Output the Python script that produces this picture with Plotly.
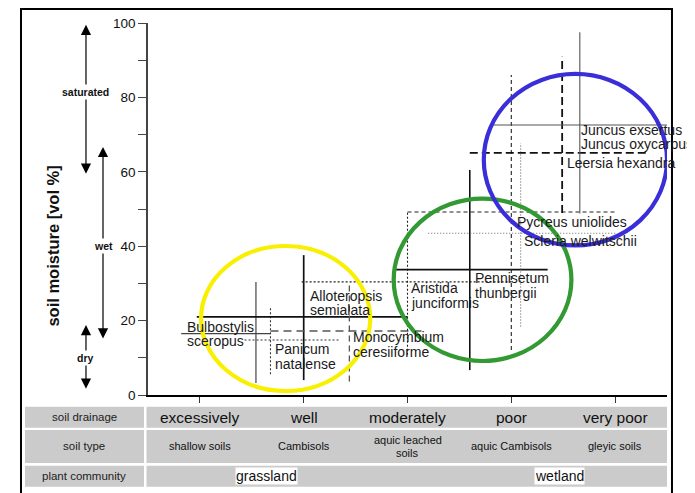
import plotly.graph_objects as go

# ---------------- data ----------------
drainage = ["excessively", "well", "moderately", "poor", "very poor"]
drain_pos = [1, 2, 3, 4, 5]
soil_types = [["shallow soils"], ["Cambisols"], ["aquic leached", "soils"], ["aquic Cambisols"], ["gleyic soils"]]
row_labels = ["soil drainage", "soil type", "plant community"]
communities = ["grassland", "wetland"]
community_x = [1.64, 4.46]

species = ["Bulbostylis sceropus", "Panicum natalense", "Alloteropsis semialata",
           "Monocymbium ceresiiforme", "Aristida junciformis", "Pennisetum thunbergii",
           "Pycreus uniolides", "Scleria welwitschii", "Leersia hexandra",
           "Juncus exsertus / Juncus oxycarpus"]
label_lines = [["Bulbostylis", "sceropus"], ["Panicum", "natalense"], ["Alloteropsis", "semialata"],
               ["Monocymbium", "ceresiiforme"], ["Aristida", "junciformis"], ["Pennisetum", "thunbergii"],
               ["Pycreus uniolides"], ["Scleria welwitschii"], ["Leersia hexandra"],
               ["Juncus exsertus", "Juncus oxycarpus"]]
# drainage (x) : median, min, max
x_mid = [1.54, 1.68, 2.00, 2.44, 3.00, 3.60, 4.00, 4.09, 4.49, 4.66]
x_min = [0.82, 1.43, 0.97, 1.68, 1.98, 2.86, 3.00, 3.20, 3.60, 3.83]
x_max = [1.68, 2.35, 3.00, 3.17, 4.00, 4.35, 5.02, 5.02, 5.32, 5.66]
# soil moisture (y) : median, min, max
y_mid = [16.5, 14.8, 21.0, 17.2, 30.4, 33.7, 49.2, 43.5, 65.1, 72.6]
y_min = [3.2, 5.6, 4.0, 3.6, 10.8, 6.7, 12.1, 18.4, 48.9, 48.8]
y_max = [30.4, 23.6, 37.6, 30.5, 49.2, 60.5, 86.0, 67.7, 90.9, 97.5]

# moisture classes
moisture_classes = ["saturated", "wet", "dry"]
class_top = [99.5, 66.7, 18.8]
class_bottom = [59.1, 14.8, 1.3]
class_label_y = [81.5, 40.1, 9.9]

# vegetation groups (ellipse extents)
group_names = ["grassland", "transition", "wetland"]
group_x0 = [1.011, 2.867, 3.735]
group_x1 = [2.641, 4.579, 5.50]
group_y0 = [1.08, 9.14, 40.2]
group_y1 = [40.05, 52.8, 86.3]

# ---------------- styles / positions ----------------
FONT = "Arial, Liberation Sans, Helvetica, sans-serif"
styles = [
    dict(color="#444444", width=1.2, dh="solid", dv="solid"),
    dict(color="#333333", width=1.1, dh="2px,2px", dv="2px,2px"),
    dict(color="#111111", width=1.7, dh="solid", dv="solid"),
    dict(color="#555555", width=1.3, dh="8px,5px", dv="6px,4px"),
    dict(color="#222222", width=1.1, dh="2px,2px", dv="2px,2px"),
    dict(color="#111111", width=1.6, dh="solid", dv="solid"),
    dict(color="#222222", width=1.1, dh="4px,3px", dv="4px,3px"),
    dict(color="#666666", width=1.1, dh="1px,2px", dv="1px,2px"),
    dict(color="#111111", width=1.8, dh="8px,4px", dv="8px,4px"),
    dict(color="#555555", width=1.1, dh="solid", dv="solid"),
]
label_x = [0.866, 1.715, 2.053, 2.464, 3.022, 3.644, 4.046, 4.11, 4.528, 4.659]
label_y = [18.28, 12.28, 26.6, 15.5, 28.68, 31.37, 46.42, 41.48, 62.45, 71.24]
line_gap = 3.85
group_colors = ["#f8f000", "#339933", "#3a2ed8"]

fig = go.Figure()

for i, name in enumerate(species):
    st = styles[i]
    fig.add_trace(go.Scatter(x=[x_min[i], x_max[i]], y=[y_mid[i], y_mid[i]], mode="lines",
                             line=dict(color=st["color"], width=st["width"], dash=st["dh"]),
                             name=name, showlegend=False, hoverinfo="name"))
    fig.add_trace(go.Scatter(x=[x_mid[i], x_mid[i]], y=[y_min[i], y_max[i]], mode="lines",
                             line=dict(color=st["color"], width=st["width"], dash=st["dv"]),
                             name=name, showlegend=False, hoverinfo="name"))

annotations = []
for i, lines in enumerate(label_lines):
    for k, t in enumerate(lines):
        annotations.append(dict(x=label_x[i], y=label_y[i] - k * line_gap, xref="x", yref="y",
                                text=t, showarrow=False, xanchor="left", yanchor="middle",
                                font=dict(family=FONT, size=14, color="#1a1a1a"), borderpad=0))

shapes = []
for i in range(len(group_names)):
    shapes.append(dict(type="circle", xref="x", yref="y", x0=group_x0[i], x1=group_x1[i],
                       y0=group_y0[i], y1=group_y1[i], line=dict(color=group_colors[i], width=4.2),
                       layer="above"))

# table (paper coordinates below the plot)
rows_y = [(-0.0315, -0.0879), (-0.0941, -0.1828), (-0.190, -0.2465)]
row_mid = [-0.0597, -0.1384, -0.2183]
for (ya, yb) in rows_y:
    shapes.append(dict(type="rect", xref="paper", yref="paper", x0=-0.237, x1=-0.0077,
                       y0=yb, y1=ya, fillcolor="#cbcbcb", line=dict(width=0), layer="below"))
    shapes.append(dict(type="rect", xref="paper", yref="paper", x0=-0.0029, x1=1.0,
                       y0=yb, y1=ya, fillcolor="#cbcbcb", line=dict(width=0), layer="below"))
for j, lab in enumerate(row_labels):
    annotations.append(dict(x=-0.1225, y=row_mid[j], xref="paper", yref="paper", text=lab,
                            xanchor="center", yanchor="middle",
                            showarrow=False, font=dict(family=FONT, size=11.5, color="#222")))
for j, d in enumerate(drainage):
    annotations.append(dict(x=drain_pos[j], y=row_mid[0], xref="x", yref="paper", text=d,
                            xanchor="center", yanchor="middle",
                            showarrow=False, font=dict(family=FONT, size=15.5, color="#111")))
for j, st_lines in enumerate(soil_types):
    n = len(st_lines)
    for k, t in enumerate(st_lines):
        yy = row_mid[1] + (0.5 * (n - 1) - k) * 0.035
        annotations.append(dict(x=drain_pos[j], y=yy, xref="x", yref="paper", text=t,
                                xanchor="center", yanchor="middle",
                                showarrow=False, font=dict(family=FONT, size=11, color="#111")))
for j, c in enumerate(communities):
    annotations.append(dict(x=community_x[j], y=row_mid[2], xref="x", yref="paper", text=c,
                            xanchor="center", yanchor="middle",
                            showarrow=False, bgcolor="white", borderpad=0,
                            font=dict(family=FONT, size=14, color="#111")))

# outer frame
shapes.append(dict(type="rect", xref="paper", yref="paper", x0=-0.2447, x1=1.0096,
                   y0=-0.35, y1=1.0376, line=dict(color="black", width=2), layer="below"))

# moisture class arrows
class_x = [-0.1195, -0.0867, -0.1195]
for j, c in enumerate(moisture_classes):
    annotations.append(dict(x=class_x[j], y=class_top[j], xref="paper", yref="y",
                            ax=0, ay=class_bottom[j], axref="pixel", ayref="y",
                            text="", showarrow=True, arrowhead=2, startarrowhead=2,
                            arrowside="end+start", arrowsize=1.7, startarrowsize=1.7,
                            arrowwidth=1.2, arrowcolor="black", standoff=0, startstandoff=0))
    annotations.append(dict(x=class_x[j], y=class_label_y[j], xref="paper", yref="y", text=c,
                            xanchor="center", yanchor="middle",
                            showarrow=False, bgcolor="white", borderpad=1,
                            font=dict(family=FONT, size=10.5, color="#111", weight="bold")))

# y-axis title
annotations.append(dict(x=-0.183, y=0.399, xref="paper", yref="paper",
                        text="soil moisture [vol %]", textangle=-90, showarrow=False,
                        xanchor="center", yanchor="middle",
                        font=dict(family=FONT, size=16.5, color="#111", weight="bold")))

ytick_vals = list(range(0, 101, 10))
ytick_text = [str(v) if v % 20 == 0 else "" for v in ytick_vals]

# the page body adds an 8px offset, so the figure is 8px smaller and margins shifted
fig.update_layout(
    width=687, height=485,
    margin=dict(l=140, r=28, t=15, b=98, autoexpand=False),
    paper_bgcolor="white", plot_bgcolor="white",
    showlegend=False,
    xaxis=dict(range=[0.5, 5.5], showgrid=False, zeroline=False, showline=True,
               linecolor="black", linewidth=1.5, ticks="outside", ticklen=6, tickcolor="#333",
               tickwidth=1.2, tickvals=drain_pos, showticklabels=False, fixedrange=True,
               automargin=False),
    yaxis=dict(range=[0, 100], showgrid=False, zeroline=False, showline=True,
               linecolor="#444", linewidth=1.6, ticks="outside", ticklen=8, tickcolor="#444",
               tickwidth=1.4, tickvals=ytick_vals, ticktext=ytick_text,
               tickfont=dict(family=FONT, size=13.5, color="#111"), fixedrange=True,
               automargin=False),
    shapes=shapes,
    annotations=annotations,
)

fig.write_html("out.html")
